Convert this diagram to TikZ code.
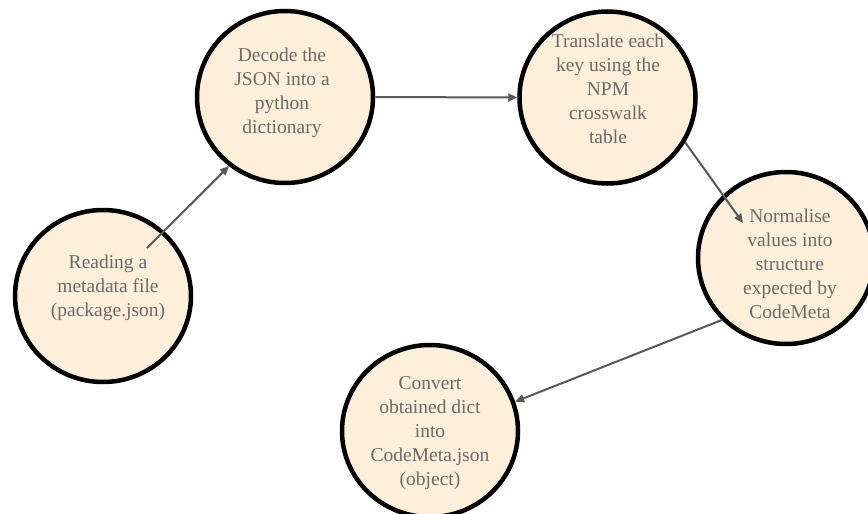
\documentclass[tikz,border=0pt]{standalone}
\usepackage{fontspec}
\setmainfont{Liberation Serif}
\usetikzlibrary{shapes.geometric,arrows.meta}
\definecolor{bubblefill}{HTML}{FDEFD9}
\definecolor{txtgray}{HTML}{6B6B6B}
\definecolor{arrgray}{HTML}{595959}
\tikzset{
  bubble/.style={ellipse, draw=black, line width=4.5pt, fill=bubblefill,
    minimum width=176pt, minimum height=172pt, inner sep=0pt},
  bubbletext/.style={text=txtgray, align=center, inner sep=0pt,
    font=\fontsize{19.5}{24}\selectfont},
  flow/.style={draw=arrgray, line width=2pt, -{Triangle[length=9pt,width=8pt]}}
}
\begin{document}
\begin{tikzpicture}[x=1pt,y=-1pt]
\useasboundingbox (0,0) rectangle (868,514);
\clip (0,0) rectangle (868,514);
\node[bubble] (c1) at (103,296) {};
\node[bubble] (c2) at (285,97) {};
\node[bubble] (c3) at (607.5,97.5) {};
\node[bubble] (c4) at (786,258) {};
\node[bubble] (c5) at (430,431) {};
\node[bubbletext] (t1) at (108,288) {Reading a\\metadata file\\(package.json)};
\node[bubbletext] (t2) at (282,93) {Decode the\\JSON into a\\python\\dictionary};
\node[bubbletext] (t3) at (608,89) {Translate each\\key using the\\NPM\\crosswalk\\table};
\node[bubbletext] (t4) at (790,264) {Normalise\\values into\\structure\\expected by\\CodeMeta};
\node[bubbletext] (t5) at (430,433) {Convert\\obtained dict\\into\\CodeMeta.json\\(object)};
\coordinate (a1s) at (147,248);
\coordinate (a3e) at (743,223);
\draw[flow] (a1s) -- (c2.231);
\draw[flow] (c2.east) -- (c3.west);
\draw[flow] (c3.-30) -- (a3e);
\draw[flow] (c4.224) -- (c5.19);
\end{tikzpicture}
\end{document}
